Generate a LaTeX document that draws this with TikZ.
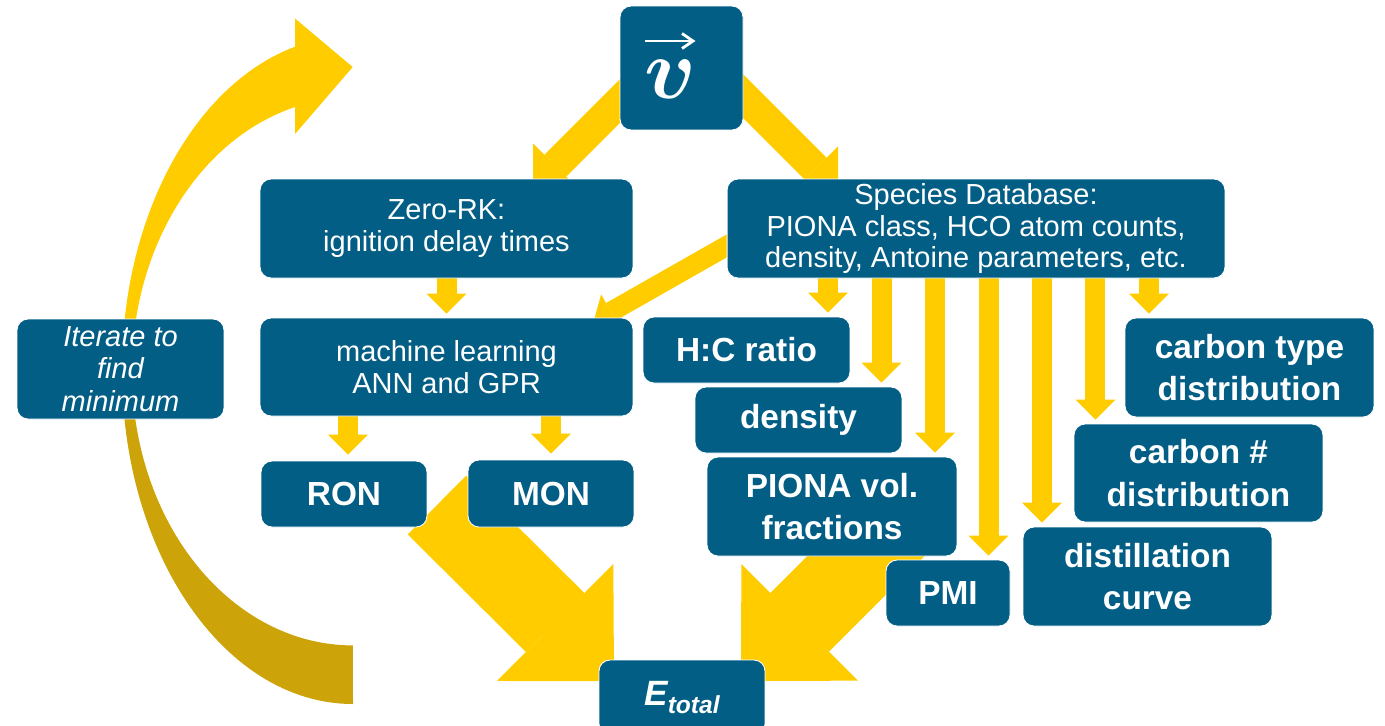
\documentclass[tikz,border=0pt]{standalone}
\usepackage{graphicx}
\usepackage{bm}
\usepackage{fontspec}
\setmainfont{Liberation Sans}
\usepackage{tikz}
\usetikzlibrary{arrows.meta,positioning,backgrounds}
\definecolor{boxblue}{RGB}{2,94,133}
\definecolor{flowyellow}{RGB}{255,204,0}
\definecolor{flowgold}{RGB}{204,163,8}
\pgfdeclareverticalshading{loopshade}{100bp}{color(0bp)=(flowgold); color(45bp)=(flowgold); color(53bp)=(flowyellow); color(100bp)=(flowyellow)}

\begin{document}
\begin{tikzpicture}[x=0.02cm, y=-0.02cm]
\tikzstyle{every node}+=[inner sep=0pt]
\tikzstyle{box}=[fill=boxblue, draw=white, line width=0.5pt, rounded corners=0.22cm, text=white, align=center, font=\fontsize{16.5}{18}\selectfont]
\tikzstyle{big}=[box, font=\fontsize{19}{24}\selectfont\bfseries]
\tikzstyle{flow}=[flowyellow, line width=0.4cm, -{Triangle[length=0.4cm, width=0.8cm, line width=0pt]}]
\tikzstyle{bigflow}=[flowyellow, line width=0.62cm, -{Triangle[length=0.63cm, width=1.26cm, line width=0pt]}]
\tikzstyle{hugeflow}=[flowyellow, line width=1.66cm, -{Triangle[length=1.66cm, width=3.3cm, line width=0pt]}]
\tikzstyle{vecarrow}=[white, line width=1.6pt, -{Straight Barb[length=0.22cm, width=0.3cm]}]
\path [use as bounding box] (0,0) rectangle (1385,725);
\clip (0,0) rectangle (1385,725);

\node [box, minimum width=2.46cm, minimum height=2.48cm] (v) at (681.5,68) {\raisebox{-0.6cm}[0pt][0pt]{\scalebox{1.97}{\fontsize{24.88}{26}\selectfont$\bm{v}$}}\hspace{0.46cm}};
\node [box, minimum width=7.46cm, minimum height=1.98cm] (zrk) at (446.5,228.5) {Zero-RK:\\ignition delay times};
\node [box, minimum width=7.46cm, minimum height=1.96cm] (ml) at (446.5,367) {machine learning\\ANN and GPR};
\node [big, minimum width=3.32cm, minimum height=1.32cm] (ron) at (344,494) {RON};
\node [big, minimum width=3.32cm, minimum height=1.34cm] (mon) at (551,493.5) {MON};
\node [box, minimum width=3.32cm, minimum height=1.5cm] (etot) at (682,697.5) {\fontsize{20}{24}\selectfont\bfseries\itshape E\raisebox{-4pt}{\fontsize{14}{16}\selectfont total}};
\node [box, minimum width=4.14cm, minimum height=2cm, font=\fontsize{16.5}{18.5}\selectfont\itshape] (iter) at (120.5,369) {Iterate to\\find\\minimum};
\node [box, minimum width=9.96cm, minimum height=1.98cm] (spdb) at (976,228.5) {Species Database:\\PIONA class, HCO atom counts,\\density, Antoine parameters, etc.};
\node [big, minimum width=4.14cm, minimum height=1.32cm] (hc) at (746.5,350) {H:C ratio};
\node [big, minimum width=4.14cm, minimum height=1.32cm] (dens) at (798.5,420) {density};
\node [big, minimum width=5cm, minimum height=1.98cm] (piona) at (832,506.5) {PIONA vol.\\fractions};
\node [big, minimum width=2.48cm, minimum height=1.32cm] (pmi) at (948,593) {PMI};
\node [big, minimum width=4.98cm, minimum height=1.98cm] (dist) at (1147.5,576.5) {distillation\\curve};
\node [big, minimum width=4.98cm, minimum height=1.96cm] (cnum) at (1198.5,473) {carbon \#\\distribution};
\node [big, minimum width=4.98cm, minimum height=1.98cm] (ctype) at (1249.5,367.5) {carbon type\\distribution};

% arrow over the v
\draw [vecarrow] ([shift={(-37,-27)}]v.center) -- ([shift={(14,-27)}]v.center);

\coordinate (vzrk) at (660,61);
\coordinate (zrktip) at (533,188);
\coordinate (vspdb) at (700,53);
\coordinate (spdbtip) at (838,191);
\coordinate (spml) at (760,227);
\coordinate (mltip) at (593.6,321.6);
\coordinate (octail) at (437,505);
\coordinate (octip) at (614,681);
\coordinate (proptail) at (900,522);
\coordinate (proptip) at (741,681);

\begin{pgfonlayer}{background}
% iteration loop
\shade [shading=loopshade] (353,704) arc [start angle=90, end angle=255.5, x radius=231, y radius=334] -- (295,18.5) -- (352.7,67) -- (295,134) -- (295,107) arc [start angle=254.8, end angle=90, x radius=221, y radius=274] -- cycle;
\draw [bigflow] (vzrk) -- (zrktip);
\draw [bigflow] (vspdb) -- (spdbtip);
\draw [hugeflow] (octail) -- (octip);
\draw [hugeflow] (proptail) -- (proptip);
\draw [flow, shorten >=0.08cm] (zrk.south) -- (ml.north);
\draw [flow, shorten >=0.12cm] ([xshift=0.08cm]ron.north |- ml.south) -- ([xshift=0.08cm]ron.north);
\draw [flow, shorten >=0.12cm] (mon.north |- ml.south) -- (mon.north);
\draw [flow] (spml) -- (mltip);
\foreach \dx/\target in {-2.96/hc, -1.89/dens, -0.82/piona, 0.25/pmi, 1.32/dist, 2.39/cnum, 3.46/ctype} {
  \path ([xshift=\dx cm]spdb.south) coordinate (s);
  \draw [flow, shorten >=0.08cm] (s) -- (s |- \target.north);
}
\end{pgfonlayer}
\end{tikzpicture}
\end{document}
